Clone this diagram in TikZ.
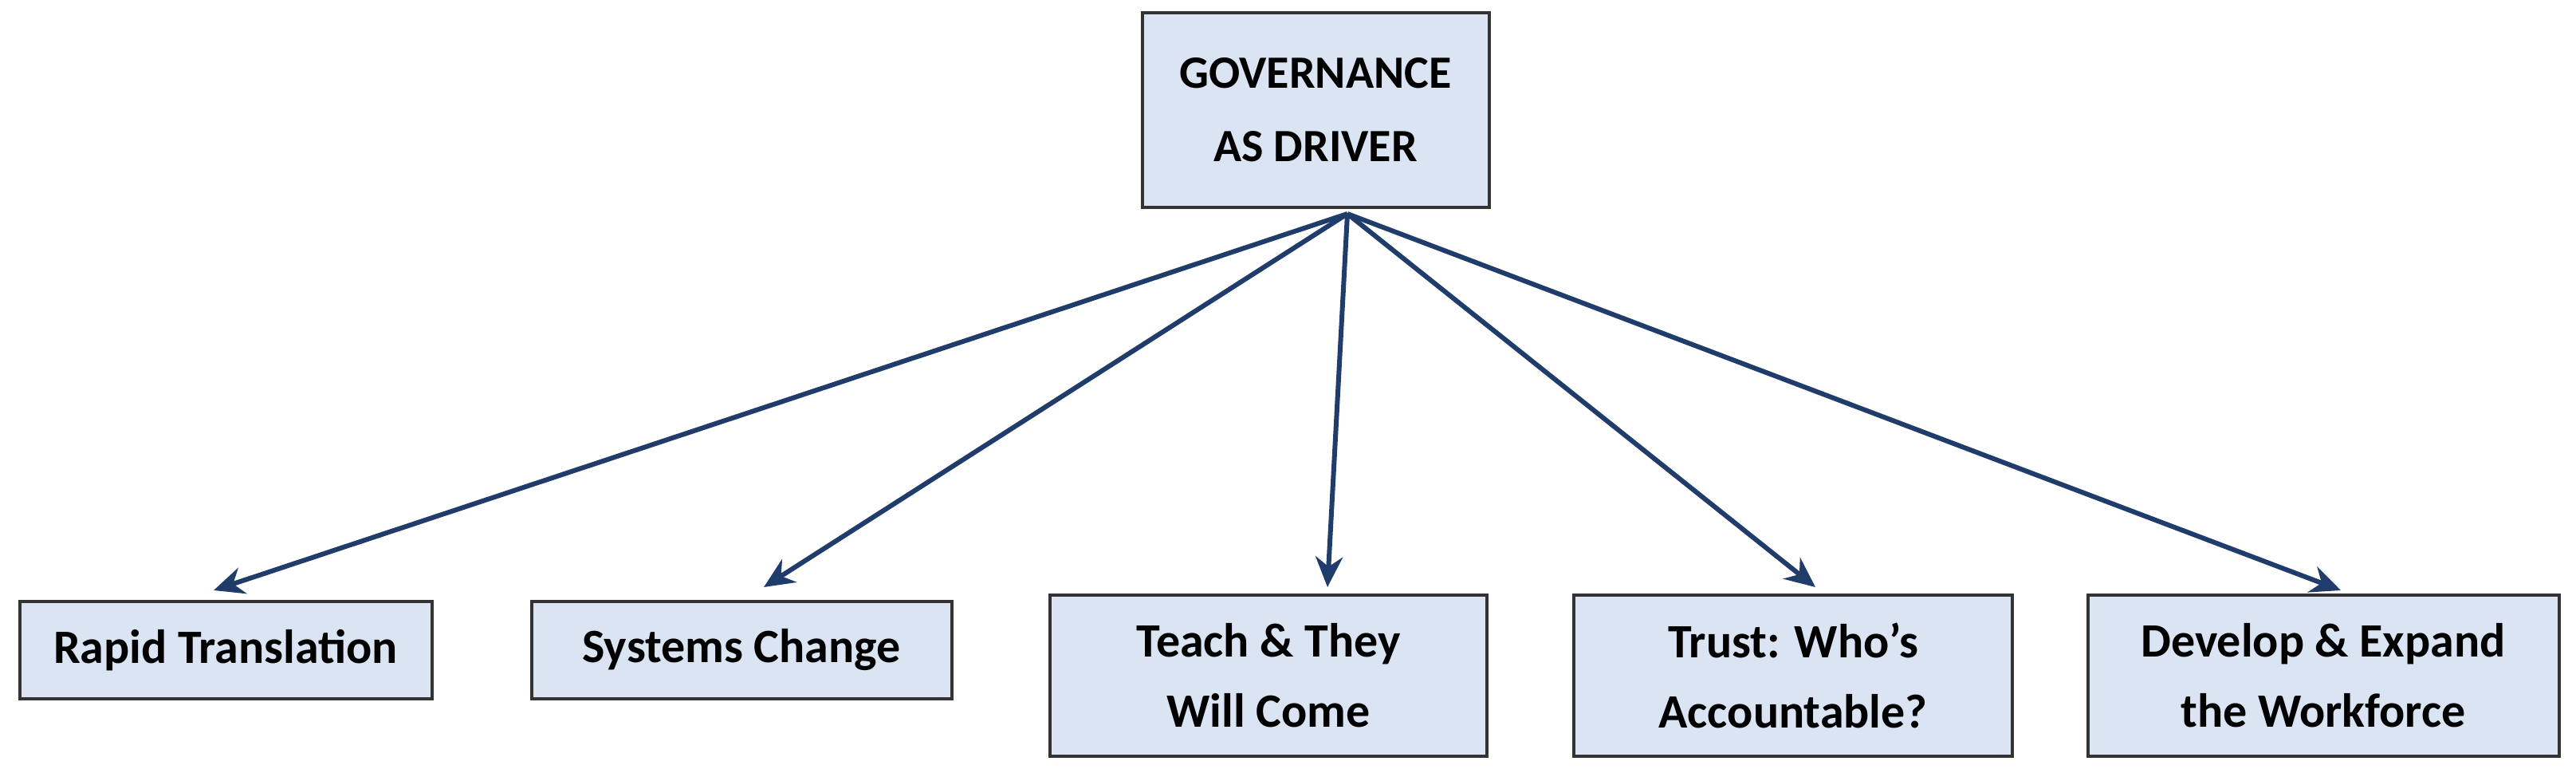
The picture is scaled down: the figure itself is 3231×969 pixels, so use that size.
\documentclass[tikz,border=0pt]{standalone}
\usepackage{fontspec}
\setmainfont{Carlito}
\usetikzlibrary{arrows.meta}
\definecolor{boxfill}{HTML}{DAE4F3}
\definecolor{arrowc}{HTML}{1F3C6B}
\begin{document}
\begin{tikzpicture}[x=1pt,y=-1pt,
  box/.style={draw=black!80,line width=4pt,fill=boxfill,align=center,inner sep=0pt,
    font=\fontsize{60}{88}\selectfont\bfseries},
  arr/.style={draw=arrowc,line width=6pt,-{Stealth[length=38pt,width=34pt]}}]
\useasboundingbox (0,0) rectangle (3231,969);
\node[box,font=\fontsize{58}{92}\selectfont\bfseries,minimum width=435pt,minimum height=244pt] (top) at (1650,138) {GOVERNANCE\\AS DRIVER};
\node[box,minimum width=517pt,minimum height=122pt] (b1) at (283,815) {Rapid Translation};
\node[box,minimum width=527pt,minimum height=122pt] (b2) at (930,815) {Systems Change};
\node[box,minimum width=548pt,minimum height=202pt] (b3) at (1591,847) {Teach \& They\\Will Come};
\node[box,minimum width=550pt,minimum height=202pt] (b4) at (2249,847) {Trust: Who’s\\Accountable?};
\node[box,minimum width=591pt,minimum height=202pt] (b5) at (2914,847) {Develop \& Expand\\the Workforce};
\coordinate (o) at (1690,268);
\coordinate (t1) at (268,740);
\coordinate (t2) at (958,736);
\coordinate (t3) at (1665,736);
\coordinate (t4) at (2277,736);
\coordinate (t5) at (2936,740);
\foreach \i in {1,...,5} \draw[arr] (o) -- (t\i);
\end{tikzpicture}
\end{document}
